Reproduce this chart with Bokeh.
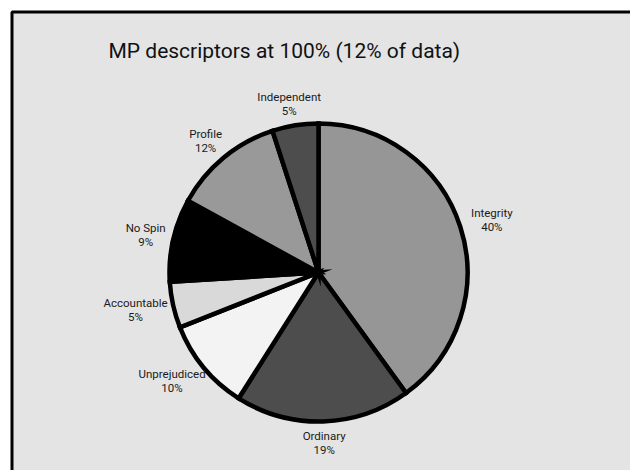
import math
from bokeh.plotting import figure
from bokeh.models import Range1d, Label, ColumnDataSource
from bokeh.core.properties import value
from bokeh.embed import file_html
from bokeh.resources import INLINE

# Pie data: share of each MP descriptor, clockwise from 12 o'clock
categories = ["Integrity", "Ordinary", "Unprejudiced", "Accountable",
              "No Spin", "Profile", "Independent"]
shares = [40, 19, 10, 5, 9, 12, 5]
slice_colors = ["#969696", "#4d4d4d", "#f3f3f3", "#d9d9d9",
                "#000000", "#999999", "#4d4d4d"]
title_text = "MP descriptors at 100% (12% of data)"

W, H = 630, 470
FONT = "Roboto"
cx, cy, R = 318, H - 272, 149
label_gap = 10
label_size = 11.5

p = figure(width=W, height=H, output_backend="svg", toolbar_location=None,
           x_range=Range1d(0, W), y_range=Range1d(0, H), min_border=0)
p.axis.visible = False
p.grid.visible = False
p.outline_line_color = None
p.background_fill_color = "white"
p.border_fill_color = "white"

# chart panel with its black frame (runs past the right and bottom edges)
p.quad(left=[11.5], right=[W + 20], bottom=[-20], top=[H - 11.5],
       fill_color="#e4e4e4", line_color="black", line_width=3)

total = float(sum(shares))
starts, ends, mids = [], [], []
acc = 0.0
for s in shares:
    a0 = acc / total * 2 * math.pi
    acc += s
    a1 = acc / total * 2 * math.pi
    # clockwise from the top -> Bokeh's anticlockwise angles
    starts.append(math.pi / 2 - a1)
    ends.append(math.pi / 2 - a0)
    mids.append((a0 + a1) / 2)

src = ColumnDataSource(dict(start=starts, end=ends, color=slice_colors,
                            name=categories))
p.wedge(x=cx, y=cy, radius=R, start_angle="start", end_angle="end",
        fill_color="color", line_color="black", line_width=4.5,
        line_join="miter", source=src)

# labels outside each slice, pushed out by the text box half-extent
lx, ly, ltxt = [], [], []
for name, s, m in zip(categories, shares, mids):
    dx, dy = math.sin(m), math.cos(m)
    txt = f"{name}\n{s}%"
    hw = 0.5 * max(len(name), 3) * 0.45 * label_size
    hh = 12
    r = R + label_gap
    lx.append(cx + r * dx + hw * dx)
    ly.append(cy + r * dy + hh * dy)
    ltxt.append(txt)

p.text(x=lx, y=ly, text=ltxt, text_align="center", text_baseline="middle",
       text_font=value(FONT), text_font_size=f"{label_size}px",
       text_color="#1a1a1a", text_line_height=1.0)

p.add_layout(Label(x=108, y=H - 50, x_units="screen", y_units="screen",
                   text=title_text, text_font=FONT, text_font_size="21px",
                   text_color="#111111", text_baseline="middle"))

open("out.html", "w").write(file_html(p, INLINE))
